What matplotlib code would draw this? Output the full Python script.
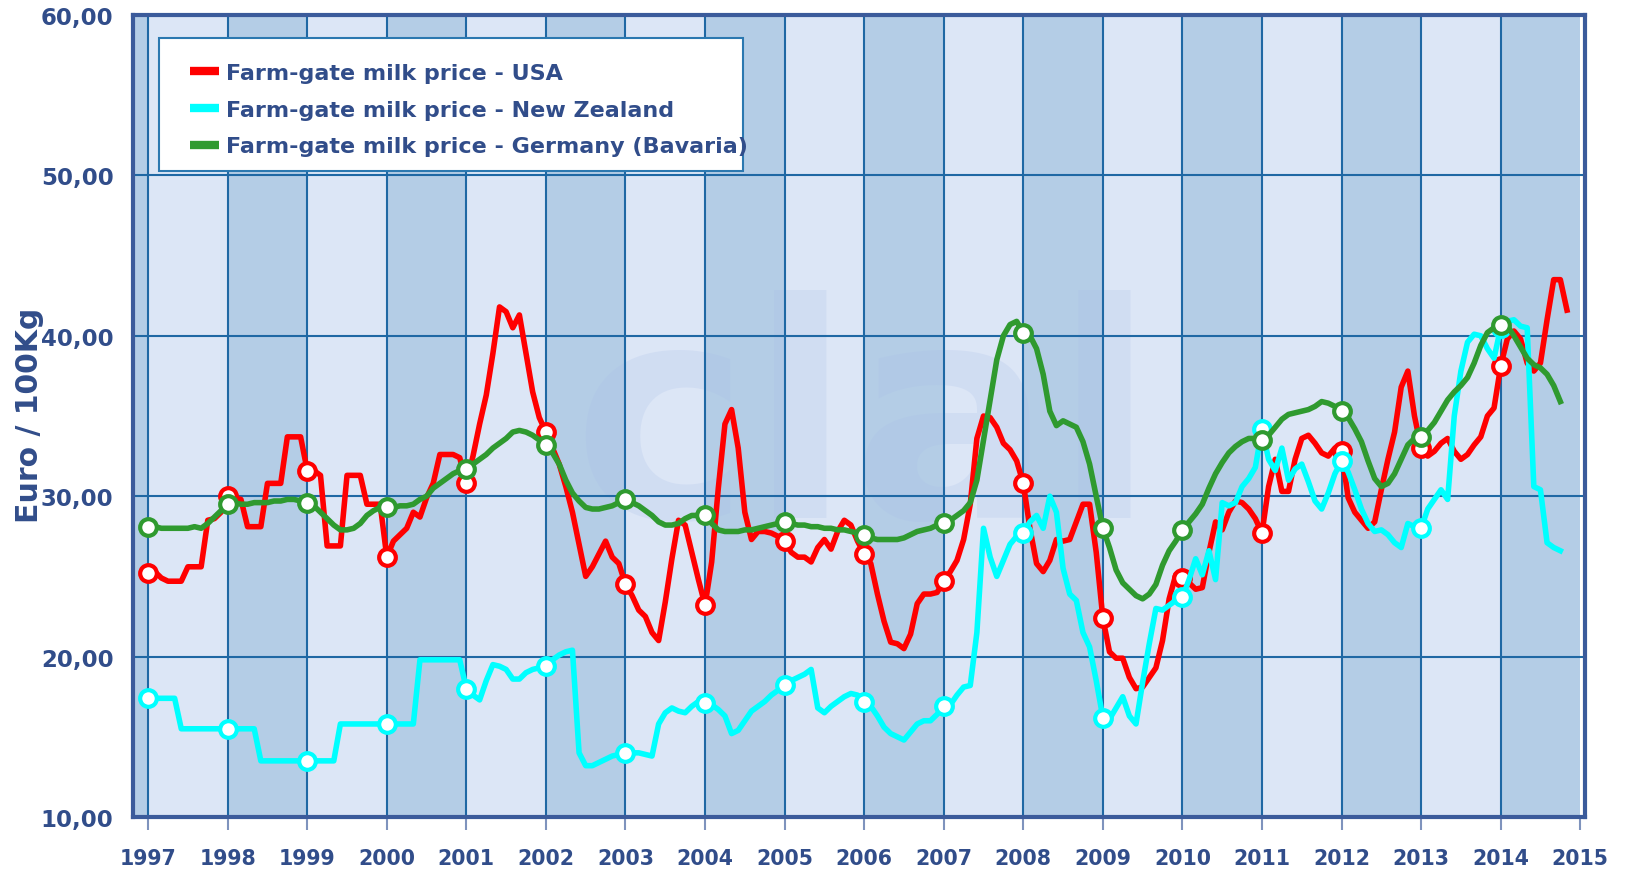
import numpy as np
import matplotlib.pyplot as plt
from matplotlib.patches import Rectangle

# monthly farm-gate milk prices (Euro / 100Kg), starting January 1997
usa = [
    25.2, 25.3, 24.9, 24.7, 24.7, 24.7, 25.6, 25.6, 25.6, 28.5, 28.6, 29.0,  # 1997
    30.0, 29.9, 29.8, 28.1, 28.1, 28.1, 30.8, 30.8, 30.8, 33.7, 33.7, 33.7,  # 1998
    31.6, 31.6, 31.3, 26.9, 26.9, 26.9, 31.3, 31.3, 31.3, 29.5, 29.5, 29.5,  # 1999
    26.2, 27.2, 27.6, 28.0, 29.0, 28.7, 29.9, 30.8, 32.6, 32.6, 32.6, 32.4,  # 2000
    30.8, 32.5, 34.5, 36.3, 38.9, 41.8, 41.5, 40.5, 41.3, 38.9, 36.5, 34.9,  # 2001
    34.0, 33.0, 32.0, 30.6, 29.0, 27.0, 25.0, 25.6, 26.4, 27.2, 26.2, 25.8,  # 2002
    24.5, 23.8, 22.9, 22.5, 21.5, 21.0, 23.4, 26.1, 28.5, 28.2, 26.5, 24.8,  # 2003
    23.2, 25.9, 30.5, 34.5, 35.4, 33.0, 29.0, 27.3, 27.8, 27.8, 27.7, 27.5,  # 2004
    27.2, 26.5, 26.2, 26.2, 25.9, 26.8, 27.3, 26.7, 27.8, 28.5, 28.2, 27.2,  # 2005
    26.4, 25.8, 23.9, 22.2, 20.9, 20.8, 20.5, 21.4, 23.3, 23.9, 23.9, 24.0,  # 2006
    24.7, 25.3, 26.0, 27.3, 29.5, 33.6, 35.0, 34.9, 34.3, 33.3, 32.9, 32.2,  # 2007
    30.8, 28.0, 25.8, 25.3, 26.0, 27.3, 27.2, 27.3, 28.4, 29.5, 29.5, 26.5,  # 2008
    22.4, 20.3, 19.9, 19.9, 18.7, 18.0, 18.1, 18.7, 19.3, 21.0, 23.6, 25.1,  # 2009
    24.9, 24.6, 24.2, 24.3, 26.5, 28.4, 27.9, 29.0, 29.7, 29.6, 29.2, 28.6,  # 2010
    27.7, 30.6, 32.3, 30.3, 30.3, 32.3, 33.6, 33.8, 33.3, 32.7, 32.5, 33.0,  # 2011
    32.8, 29.9, 29.0, 28.5, 28.0, 28.4, 30.4, 32.3, 34.0, 36.8, 37.8, 35.0,  # 2012
    33.0, 32.5, 32.8, 33.3, 33.6, 32.8, 32.3, 32.6, 33.2, 33.7, 35.0, 35.5,  # 2013
    38.1, 39.8, 40.3, 39.8, 38.3, 37.8, 38.3, 41.0, 43.5, 43.5, 41.6,        # 2014
]
new_zealand = [
    17.4, 17.4, 17.4, 17.4, 17.4, 15.5, 15.5, 15.5, 15.5, 15.5, 15.5, 15.5,  # 1997
    15.5, 15.5, 15.5, 15.5, 15.5, 13.5, 13.5, 13.5, 13.5, 13.5, 13.5, 13.5,  # 1998
    13.5, 13.5, 13.5, 13.5, 13.5, 15.8, 15.8, 15.8, 15.8, 15.8, 15.8, 15.8,  # 1999
    15.8, 15.8, 15.8, 15.8, 15.8, 19.8, 19.8, 19.8, 19.8, 19.8, 19.8, 19.8,  # 2000
    18.0, 17.6, 17.3, 18.5, 19.5, 19.4, 19.2, 18.6, 18.6, 19.0, 19.2, 19.3,  # 2001
    19.4, 19.8, 20.1, 20.3, 20.4, 14.0, 13.2, 13.2, 13.4, 13.6, 13.8, 13.9,  # 2002
    14.0, 14.0, 14.0, 13.9, 13.8, 15.8, 16.5, 16.8, 16.6, 16.5, 16.9, 17.2,  # 2003
    17.1, 17.0, 16.7, 16.3, 15.2, 15.4, 16.0, 16.6, 16.9, 17.2, 17.6, 17.9,  # 2004
    18.2, 18.5, 18.7, 18.9, 19.2, 16.8, 16.5, 16.9, 17.2, 17.5, 17.7, 17.6,  # 2005
    17.2, 16.9, 16.3, 15.6, 15.2, 15.0, 14.8, 15.3, 15.8, 16.0, 16.0, 16.4,  # 2006
    16.9, 17.0, 17.6, 18.1, 18.2, 21.5, 28.0, 26.2, 25.0, 26.0, 27.0, 27.5,  # 2007
    27.7, 28.4, 28.8, 28.0, 30.0, 29.0, 25.5, 23.9, 23.5, 21.5, 20.6, 18.5,  # 2008
    16.2, 16.1, 16.8, 17.5, 16.3, 15.8, 18.4, 20.8, 23.0, 22.9, 23.2, 23.5,  # 2009
    23.7, 24.8, 26.1, 25.1, 26.6, 24.8, 29.6, 29.4, 29.6, 30.6, 31.1, 31.8,  # 2010
    34.2, 32.3, 31.6, 33.0, 31.0, 31.7, 32.0, 30.9, 29.7, 29.2, 30.2, 31.4,  # 2011
    32.2, 31.5, 30.4, 29.2, 28.3, 27.8, 27.9, 27.6, 27.1, 26.8, 28.3, 28.1,  # 2012
    28.0, 29.2, 29.8, 30.4, 29.8, 35.0, 37.8, 39.6, 40.1, 40.0, 39.2, 38.6,  # 2013
    40.5, 40.9, 41.0, 40.6, 40.5, 30.6, 30.4, 27.1, 26.8, 26.6,              # 2014
]
germany = [
    28.1, 28.1, 28.0, 28.0, 28.0, 28.0, 28.0, 28.1, 28.0, 28.3, 28.7, 29.1,  # 1997
    29.5, 29.6, 29.5, 29.5, 29.6, 29.6, 29.6, 29.7, 29.7, 29.8, 29.8, 29.7,  # 1998
    29.6, 29.4, 29.0, 28.6, 28.2, 27.9, 27.9, 28.0, 28.3, 28.8, 29.1, 29.3,  # 1999
    29.3, 29.3, 29.4, 29.4, 29.5, 29.8, 30.0, 30.5, 30.8, 31.1, 31.4, 31.6,  # 2000
    31.7, 32.0, 32.3, 32.6, 33.0, 33.3, 33.6, 34.0, 34.1, 34.0, 33.8, 33.5,  # 2001
    33.2, 32.7, 32.0, 31.0, 30.2, 29.7, 29.3, 29.2, 29.2, 29.3, 29.4, 29.6,  # 2002
    29.8, 29.6, 29.4, 29.1, 28.8, 28.4, 28.2, 28.2, 28.3, 28.6, 28.8, 28.8,  # 2003
    28.8, 28.3, 27.9, 27.8, 27.8, 27.8, 27.9, 27.9, 28.0, 28.1, 28.2, 28.3,  # 2004
    28.4, 28.3, 28.2, 28.2, 28.1, 28.1, 28.0, 28.0, 27.9, 27.9, 27.8, 27.7,  # 2005
    27.6, 27.4, 27.3, 27.3, 27.3, 27.3, 27.4, 27.6, 27.8, 27.9, 28.0, 28.2,  # 2006
    28.3, 28.5, 28.8, 29.1, 29.6, 31.0, 33.5, 36.0, 38.5, 40.0, 40.7, 40.9,  # 2007
    40.2, 40.0, 39.2, 37.6, 35.3, 34.4, 34.7, 34.5, 34.3, 33.4, 32.0, 30.0,  # 2008
    28.0, 26.8, 25.4, 24.6, 24.2, 23.8, 23.6, 23.9, 24.5, 25.7, 26.6, 27.2,  # 2009
    27.9, 28.4, 28.9, 29.5, 30.5, 31.4, 32.1, 32.7, 33.1, 33.4, 33.6, 33.6,  # 2010
    33.5, 33.8, 34.3, 34.8, 35.1, 35.2, 35.3, 35.4, 35.6, 35.9, 35.8, 35.6,  # 2011
    35.3, 34.9, 34.2, 33.4, 32.2, 31.1, 30.6, 30.8, 31.4, 32.3, 33.2, 33.6,  # 2012
    33.7, 34.1, 34.6, 35.3, 36.0, 36.5, 36.9, 37.4, 38.3, 39.4, 40.2, 40.5,  # 2013
    40.7, 40.6, 40.0, 39.3, 38.6, 38.2, 38.0, 37.6, 36.9, 35.9,              # 2014
]

labels = ['Farm-gate milk price - USA',
          'Farm-gate milk price - New Zealand',
          'Farm-gate milk price - Germany (Bavaria)']
colors = ['#ff0000', '#00ffff', '#2f9a2f']
years = list(range(1997, 2016))
year_labels = [str(y) for y in years]
y_ticks = [10, 20, 30, 40, 50, 60]
y_tick_labels = ['10,00', '20,00', '30,00', '40,00', '50,00', '60,00']

navy = '#314d8a'
grid_col = '#1f68a4'

fig = plt.figure(figsize=(16.27, 8.70), dpi=100)
ax = fig.add_axes([133 / 1627, 1 - 818 / 870, 1452 / 1627, 802 / 870])

# alternating year bands
for y in range(1996, 2015):
    c = '#b4cde6' if (y - 1997) % 2 else '#dce6f6'
    ax.axvspan(y, y + 1, color=c, lw=0, zorder=0)

# faint watermark
ax.text(2006.0, 28.7, 'clal', fontsize=215, fontweight='bold', color='#a8bde8',
        alpha=0.22, ha='center', va='baseline', zorder=0.5)

for y in years[:-1]:
    ax.axvline(y, color=grid_col, lw=1.5, zorder=1)
for v in y_ticks[1:-1]:
    ax.axhline(v, color=grid_col, lw=1.5, zorder=1)

for series, lab, col in zip([usa, new_zealand, germany], labels, colors):
    x = 1997 + np.arange(len(series)) / 12.0
    ax.plot(x, series, color=col, lw=4.0, label=lab, zorder=3,
            marker='o', markevery=12, markersize=12, markerfacecolor='white',
            markeredgecolor=col, markeredgewidth=3.0, solid_joinstyle='round')

ax.set_xlim(1996.81, 2015.06)
ax.set_ylim(10, 60)
ax.set_xticks(years)
ax.set_xticklabels(year_labels)
ax.set_yticks(y_ticks)
ax.set_yticklabels(y_tick_labels)
ax.tick_params(axis='x', length=9, width=1.5, color='#7f93bd', pad=13,
               labelsize=14.8, labelcolor=navy)
ax.tick_params(axis='y', length=0, pad=14, labelsize=16.5, labelcolor=navy)
for t in ax.get_xticklabels() + ax.get_yticklabels():
    t.set_fontweight('bold')
for s in ax.spines.values():
    s.set_color('#3b5b9b')
    s.set_linewidth(3)

fig.text(29 / 1627, 1 - 415 / 870, 'Euro / 100Kg', rotation=90, ha='center',
         va='center', fontsize=21.5, fontweight='bold', color=navy)

# legend box
box = Rectangle((159 / 1627, 1 - 172 / 870), 584 / 1627, 133 / 870,
                transform=fig.transFigure, facecolor='white',
                edgecolor='#2b78b0', lw=1.5, zorder=5)
ax.add_patch(box)
box.set_clip_on(False)
leg = ax.legend(loc='upper left', bbox_to_anchor=(178.5 / 1627, 1 - 53 / 870),
                bbox_transform=fig.transFigure, frameon=False, borderpad=0,
                handlelength=1.3, handletextpad=0.35, labelspacing=0.75,
                prop={'size': 16, 'weight': 'bold'})
leg.set_zorder(6)
for txt in leg.get_texts():
    txt.set_color(navy)
for h in leg.get_lines():
    h.set_marker('')
    h.set_linewidth(6)
    h.set_solid_capstyle('butt')

fig.savefig('out.png', dpi=100)
